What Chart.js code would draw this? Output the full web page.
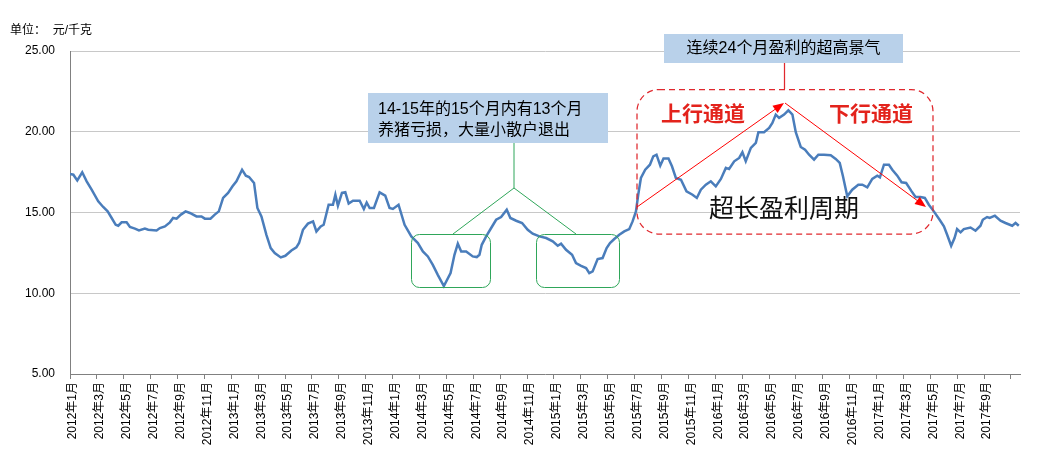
<!DOCTYPE html>
<html>
<head>
<meta charset="utf-8">
<script src="https://cdn.jsdelivr.net/npm/chart.js@4"></script>
<style>
  html, body { margin: 0; padding: 0; background: #fff; }
  #wrap { width: 1053px; height: 462px; position: relative; }
</style>
</head>
<body>
<div id="wrap"><canvas id="priceChart" width="1053" height="462"></canvas></div>
<script>
// months since Jan 2012 and price in 元/千克
const months = [
  0.00, 0.25, 0.54, 0.91, 1.24, 1.61, 2.10, 2.47, 2.80, 3.10, 3.40, 3.59, 3.84, 4.21, 4.46, 4.83,
  5.13, 5.57, 5.82, 6.44, 6.69, 7.06, 7.43, 7.67, 7.93, 8.25, 8.60, 8.92, 9.41, 9.78, 10.03, 10.45,
  10.77, 11.07, 11.39, 11.76, 12.09, 12.38, 12.80, 13.08, 13.32, 13.69, 13.94, 14.24, 14.61, 14.93,
  15.23, 15.68, 16.02, 16.47, 16.84, 17.04, 17.33, 17.70, 18.08, 18.33, 18.65, 18.87, 19.24, 19.56,
  19.74, 19.93, 20.23, 20.48, 20.73, 21.05, 21.55, 21.86, 22.07, 22.29, 22.61, 23.03, 23.45, 23.77,
  24.02, 24.44, 24.89, 25.39, 25.88, 26.25, 26.62, 26.99, 27.36, 27.81, 28.31, 28.60, 28.85, 29.10,
  29.47, 29.96, 30.26, 30.46, 30.63, 30.96, 31.33, 31.70, 32.07, 32.49, 32.76, 33.19, 33.63, 34.05,
  34.42, 34.92, 35.42, 35.91, 36.28, 36.53, 36.90, 37.35, 37.64, 38.02, 38.39, 38.63, 38.88, 39.25,
  39.62, 39.92, 40.17, 40.49, 40.86, 41.23, 41.60, 41.85, 42.10, 42.27, 42.47, 42.79, 43.14, 43.39,
  43.63, 43.91, 44.15, 44.52, 44.78, 45.07, 45.45, 45.86, 46.31, 46.63, 46.93, 47.30, 47.67, 48.04,
  48.42, 48.79, 49.03, 49.41, 49.78, 50.02, 50.27, 50.65, 51.02, 51.21, 51.63, 52.01, 52.25, 52.50,
  52.75, 53.12, 53.44, 53.74, 53.99, 54.36, 54.68, 54.98, 55.35, 55.67, 56.09, 56.59, 56.96, 57.26,
  57.50, 57.82, 58.19, 58.64, 58.94, 59.31, 59.68, 60.05, 60.25, 60.55, 60.92, 61.17, 61.54, 61.86,
  62.20, 62.61, 62.90, 63.27, 63.59, 63.89, 64.26, 64.69, 65.01, 65.25, 65.55, 65.80, 65.99, 66.25,
  66.49, 66.99, 67.36, 67.73, 67.90, 68.22, 68.42, 68.80, 69.22, 69.59, 70.09, 70.34, 70.58
];
const prices = [
  17.39, 17.34, 16.99, 17.49, 16.93, 16.41, 15.69, 15.34, 15.07, 14.66, 14.24, 14.18, 14.39, 14.39, 14.10, 14.00,
  13.89, 14.00, 13.93, 13.89, 14.04, 14.14, 14.39, 14.66, 14.62, 14.87, 15.07, 14.97, 14.76, 14.76, 14.62, 14.62,
  14.87, 15.07, 15.90, 16.21, 16.62, 16.93, 17.65, 17.28, 17.20, 16.83, 15.28, 14.76, 13.62, 12.80,
  12.49, 12.22, 12.32, 12.65, 12.84, 13.11, 13.93, 14.31, 14.45, 13.83, 14.14, 14.24, 15.48, 15.48,
  16.10, 15.42, 16.21, 16.25, 15.55, 15.73, 15.73, 15.22, 15.62, 15.28, 15.28, 16.25, 16.04, 15.28,
  15.22, 15.48, 14.24, 13.52, 13.11, 12.59, 12.28, 11.76, 11.14, 10.45, 11.25, 12.38, 13.07, 12.59,
  12.59, 12.28, 12.24, 12.38, 13.00, 13.52, 14.04, 14.55, 14.72, 15.17, 14.66, 14.49, 14.35, 13.93,
  13.69, 13.52, 13.42, 13.21, 12.94, 13.07, 12.69, 12.38, 11.87, 11.70, 11.56, 11.25, 11.35, 12.12,
  12.18, 12.80, 13.11, 13.36, 13.62, 13.83, 13.97, 14.45, 15.07, 16.10, 17.14, 17.65, 17.96, 18.48,
  18.58, 17.90, 18.34, 18.34, 17.86, 17.14, 17.03, 16.31, 16.10, 15.90, 16.41, 16.72, 16.93, 16.62,
  17.08, 17.76, 17.69, 18.17, 18.38, 18.73, 18.17, 19.00, 19.31, 19.97, 19.97, 20.24, 20.55, 21.06,
  20.86, 21.06, 21.33, 21.06, 19.97, 19.06, 18.89, 18.58, 18.27, 18.58, 18.58, 18.54, 18.32, 18.07,
  17.24, 16.00, 16.41, 16.72, 16.72, 16.56, 17.08, 17.28, 17.18, 17.96, 17.96, 17.65, 17.28, 16.87,
  16.83, 16.31, 15.96, 15.96, 15.90, 15.48, 15.07, 14.55, 14.14, 13.62, 12.94, 13.42, 13.97, 13.77,
  13.97, 14.07, 13.87, 14.18, 14.55, 14.72, 14.66, 14.80, 14.49, 14.35, 14.18, 14.35, 14.18
];

// x axis ticks every two months
const tickMonths = [
  0, 2, 4, 6, 8, 10, 12, 14, 16, 18, 20, 22, 24, 26, 28, 30, 32, 34,
  36, 38, 40, 42, 44, 46, 48, 50, 52, 54, 56, 58, 60, 62, 64, 66, 68, 70
];
const tickLabels = [
  '2012年1月', '2012年3月', '2012年5月', '2012年7月', '2012年9月', '2012年11月',
  '2013年1月', '2013年3月', '2013年5月', '2013年7月', '2013年9月', '2013年11月',
  '2014年1月', '2014年3月', '2014年5月', '2014年7月', '2014年9月', '2014年11月',
  '2015年1月', '2015年3月', '2015年5月', '2015年7月', '2015年9月', '2015年11月',
  '2016年1月', '2016年3月', '2016年5月', '2016年7月', '2016年9月', '2016年11月',
  '2017年1月', '2017年3月', '2017年5月', '2017年7月', '2017年9月', ''
];
const yTicks = [5, 10, 15, 20, 25];

const unitText = '单位：  元/千克';
const lossNote = ['14-15年的15个月内有13个月', '养猪亏损，大量小散户退出'];
const boomNote = '连续24个月盈利的超高景气';
const upText = '上行通道';
const downText = '下行通道';
const cycleText = '超长盈利周期';

const SANS = '"Liberation Sans", Arial, "Noto Sans CJK SC", sans-serif';
const CJK = '"Noto Sans CJK SC", sans-serif';

function roundRectPath(ctx, x, y, w, h, r) {
    ctx.beginPath();
    ctx.moveTo(x + r, y);
    ctx.lineTo(x + w - r, y);
    ctx.arcTo(x + w, y, x + w, y + r, r);
    ctx.lineTo(x + w, y + h - r);
    ctx.arcTo(x + w, y + h, x + w - r, y + h, r);
    ctx.lineTo(x + r, y + h);
    ctx.arcTo(x, y + h, x, y + h - r, r);
    ctx.lineTo(x, y + r);
    ctx.arcTo(x, y, x + r, y, r);
    ctx.closePath();
}

function arrow(ctx, x1, y1, x2, y2, color) {
    const ang = Math.atan2(y2 - y1, x2 - x1);
    const len = 11, half = 4.5;
    ctx.strokeStyle = color;
    ctx.lineWidth = 1;
    ctx.beginPath();
    ctx.moveTo(x1, y1);
    ctx.lineTo(x2 - Math.cos(ang) * len * 0.8, y2 - Math.sin(ang) * len * 0.8);
    ctx.stroke();
    ctx.fillStyle = color;
    ctx.beginPath();
    ctx.moveTo(x2, y2);
    ctx.lineTo(x2 - Math.cos(ang) * len + Math.sin(ang) * half, y2 - Math.sin(ang) * len - Math.cos(ang) * half);
    ctx.lineTo(x2 - Math.cos(ang) * len - Math.sin(ang) * half, y2 - Math.sin(ang) * len + Math.cos(ang) * half);
    ctx.closePath();
    ctx.fill();
}

// callouts drawn over the plot
const notesPlugin = {
    id: 'notes',
    afterDatasetsDraw(chart) {
        const ctx = chart.ctx;
        ctx.save();

        // unit label
        ctx.fillStyle = '#000';
        ctx.font = '12px ' + SANS;
        ctx.textBaseline = 'middle';
        ctx.textAlign = 'left';
        ctx.fillText(unitText, 10, 31);

        // green callout: loss period
        ctx.strokeStyle = '#2fa65a';
        ctx.lineWidth = 1;
        ctx.beginPath();
        ctx.moveTo(514, 143);
        ctx.lineTo(514, 188);
        ctx.moveTo(453, 234);
        ctx.lineTo(514, 188);
        ctx.lineTo(576, 234);
        ctx.stroke();
        roundRectPath(ctx, 411.5, 234.5, 79, 53, 8);
        ctx.stroke();
        roundRectPath(ctx, 536.5, 234.5, 83, 53, 8);
        ctx.stroke();

        ctx.fillStyle = '#b9d1ea';
        ctx.fillRect(368, 93, 240, 50);
        ctx.fillStyle = '#000';
        ctx.font = '16px ' + SANS;
        ctx.textBaseline = 'alphabetic';
        ctx.fillText(lossNote[0], 378, 114);
        ctx.fillText(lossNote[1], 378, 135);

        // red profit cycle box
        ctx.strokeStyle = '#e0282e';
        ctx.lineWidth = 1.25;
        ctx.beginPath();
        ctx.moveTo(784.5, 63);
        ctx.lineTo(784.5, 89);
        ctx.stroke();
        ctx.setLineDash([6, 4]);
        roundRectPath(ctx, 637, 89.5, 296, 144.5, 22);
        ctx.stroke();
        ctx.setLineDash([]);

        ctx.fillStyle = '#b9d1ea';
        ctx.fillRect(664, 34, 239, 29);
        ctx.fillStyle = '#000';
        ctx.font = '16px ' + SANS;
        ctx.textAlign = 'center';
        ctx.textBaseline = 'middle';
        ctx.fillText(boomNote, 783.5, 49);

        arrow(ctx, 637, 207, 784, 103, '#ff0000');
        arrow(ctx, 785, 103, 926, 207, '#ff0000');

        ctx.fillStyle = '#e3231c';
        ctx.font = 'bold 21px ' + CJK;
        ctx.fillText(upText, 703, 113);
        ctx.fillText(downText, 871, 113);

        ctx.fillStyle = '#111';
        ctx.font = '25px ' + CJK;
        ctx.fillText(cycleText, 784, 207);

        ctx.restore();
    }
};

const ctx = document.getElementById('priceChart').getContext('2d');
const priceChart = new Chart(ctx, {
    type: 'line',
    data: {
        datasets: [{
            data: months.map((m, i) => ({ x: m, y: prices[i] })),
            borderColor: '#4a7dbb',
            borderWidth: 2.5,
            pointRadius: 0,
            tension: 0,
            fill: false
        }]
    },
    options: {
        responsive: false,
        animation: false,
        layout: { padding: { top: 51, right: 33, bottom: 0, left: 0 } },
        plugins: {
            legend: { display: false },
            tooltip: { enabled: false }
        },
        scales: {
            x: {
                type: 'linear',
                min: 0,
                max: 70.67,
                afterBuildTicks: s => { s.ticks = tickMonths.map(v => ({ value: v })); },
                afterFit: s => { s.height = 88; },
                grid: {
                    display: true,
                    drawOnChartArea: false,
                    drawTicks: true,
                    tickLength: 5,
                    color: '#808080'
                },
                border: { color: '#808080', width: 1 },
                ticks: {
                    autoSkip: false,
                    minRotation: 90,
                    maxRotation: 90,
                    padding: 3,
                    labelOffset: 3,
                    color: '#000',
                    font: { family: SANS, size: 12 },
                    callback: v => {
                        const i = tickMonths.indexOf(v);
                        return i >= 0 ? tickLabels[i] : '';
                    }
                }
            },
            y: {
                min: 5,
                max: 25,
                afterBuildTicks: s => { s.ticks = yTicks.map(v => ({ value: v })); },
                afterFit: s => { s.width = 70; },
                grid: {
                    color: c => (c.tick && c.tick.value === 5) ? 'rgba(0,0,0,0)' : '#c8c8c8',
                    drawTicks: false
                },
                border: { color: '#808080', width: 1 },
                ticks: {
                    padding: 15,
                    color: '#000',
                    font: { family: SANS, size: 12 },
                    callback: v => Number(v).toFixed(2)
                }
            }
        }
    },
    plugins: [notesPlugin]
});
</script>
</body>
</html>
